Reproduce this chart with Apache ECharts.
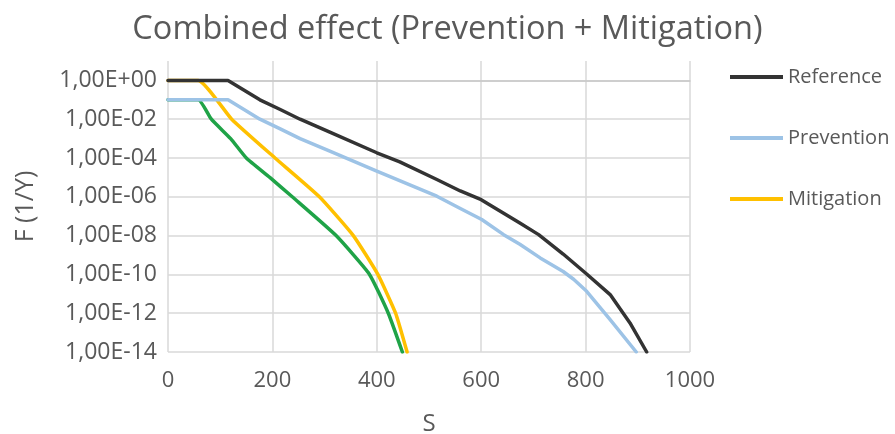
<!DOCTYPE html>
<html>
<head>
<meta charset="utf-8">
<script src="https://cdn.jsdelivr.net/npm/echarts@6/dist/echarts.min.js"></script>
<style>
html,body{margin:0;padding:0;background:#fff;}
#chart{width:895px;height:434px;}
</style>
</head>
<body>
<div id="chart"></div>
<script>
// S values and log10(F) values (F in 1/Y)
const refS   = [0, 115, 176, 215, 253, 310, 400, 444, 515, 560, 600, 643, 674, 710, 757, 802, 847, 872, 885, 917];
const refExp = [0, 0, -1.0, -1.5, -2.0, -2.67, -3.73, -4.2, -5.11, -5.7, -6.15, -6.85, -7.35, -7.95, -8.95, -9.98, -11.04, -12.0, -12.5, -14];

const prevS   = [0, 115, 176, 215, 253, 310, 400, 515, 560, 601, 643, 674, 713, 757, 777, 802, 847, 897];
const prevExp = [-1, -1, -2.0, -2.5, -3.0, -3.65, -4.68, -5.97, -6.6, -7.17, -7.95, -8.45, -9.15, -9.85, -10.25, -10.87, -12.33, -14];

const mitS   = [0, 58, 122, 205, 290, 355, 402, 436, 458];
const mitExp = [0, 0, -2, -4, -6, -8, -10, -12, -14];

const combS   = [0, 58, 83, 120, 150, 195, 238, 322, 386, 422, 449];
const combExp = [-1, -1, -2, -3, -4, -5, -6, -8, -10, -12, -14];

const seriesNames = ['Reference', 'Prevention', 'Mitigation', 'Combined'];
const legendNames = ['Reference', 'Prevention', 'Mitigation'];
const smoothness = [0, 0, 0.15, 0.15];

function pairs(xs, ys){ return xs.map((x,i)=>[x, ys[i]]); }
function fmtExp(v){
  if (v > 0) return '';
  const a = Math.abs(Math.round(v));
  return '1,00E' + (v >= 0 ? '+' : '-') + (a < 10 ? '0' + a : '' + a);
}

const colors = ['#333333', '#9DC3E6', '#FFC000', '#1FA347'];
const font = 'Open Sans';
const txt = '#595959';

const chart = echarts.init(document.getElementById('chart'), null, {renderer:'canvas'});
const dataSets = [pairs(refS, refExp), pairs(prevS, prevExp), pairs(mitS, mitExp), pairs(combS, combExp)];

chart.setOption({
  animation: false,
  color: colors,
  title: {
    text: 'Combined effect (Prevention + Mitigation)',
    left: 'center',
    top: 8,
    textStyle: {fontFamily: font, fontSize: 32.5, fontWeight: 'normal', color: txt}
  },
  legend: {
    data: legendNames,
    orient: 'vertical',
    left: 730,
    top: 66,
    padding: 0,
    itemWidth: 53,
    itemHeight: 4,
    itemGap: 39,
    icon: 'rect',
    textStyle: {fontFamily: font, fontSize: 20, color: txt, lineHeight: 22}
  },
  grid: {left: 168, right: 205, top: 61, bottom: 82, containLabel: false, outerBoundsMode: 'none'},
  xAxis: {
    type: 'value',
    min: 0, max: 1000, interval: 200,
    name: 'S',
    nameLocation: 'middle',
    nameGap: 60,
    nameTextStyle: {fontFamily: font, fontSize: 24, color: txt},
    axisLine: {show: true, lineStyle: {color: '#c8c8c8', width: 1.5}},
    axisTick: {show: false},
    axisLabel: {fontFamily: font, fontSize: 22, color: txt, margin: 18, formatter: v => String(v)},
    splitLine: {show: true, lineStyle: {color: '#d9d9d9', width: 1.5}}
  },
  yAxis: {
    type: 'value',
    min: -14, max: 1, interval: 2,
    name: 'F (1/Y)',
    nameLocation: 'middle',
    nameRotate: 90,
    nameGap: 130,
    nameTextStyle: {fontFamily: font, fontSize: 25, color: txt},
    axisLine: {show: false},
    axisTick: {show: false},
    axisLabel: {fontFamily: font, fontSize: 23, color: txt, margin: 11, formatter: fmtExp},
    splitLine: {show: true, lineStyle: {color: ['#d9d9d9','#d9d9d9','#d9d9d9','#d9d9d9','#d9d9d9','#d9d9d9','#d9d9d9','#d9d9d9','rgba(0,0,0,0)'], width: 1.5}}
  },
  series: seriesNames.map((n, i) => ({
    name: n,
    type: 'line',
    data: dataSets[i],
    showSymbol: false,
    symbol: 'none',
    smooth: smoothness[i],
    clip: true,
    lineStyle: {width: 3.5, color: colors[i], cap: 'round', join: 'round'},
    z: 10 - i
  }))
});
</script>
</body>
</html>
